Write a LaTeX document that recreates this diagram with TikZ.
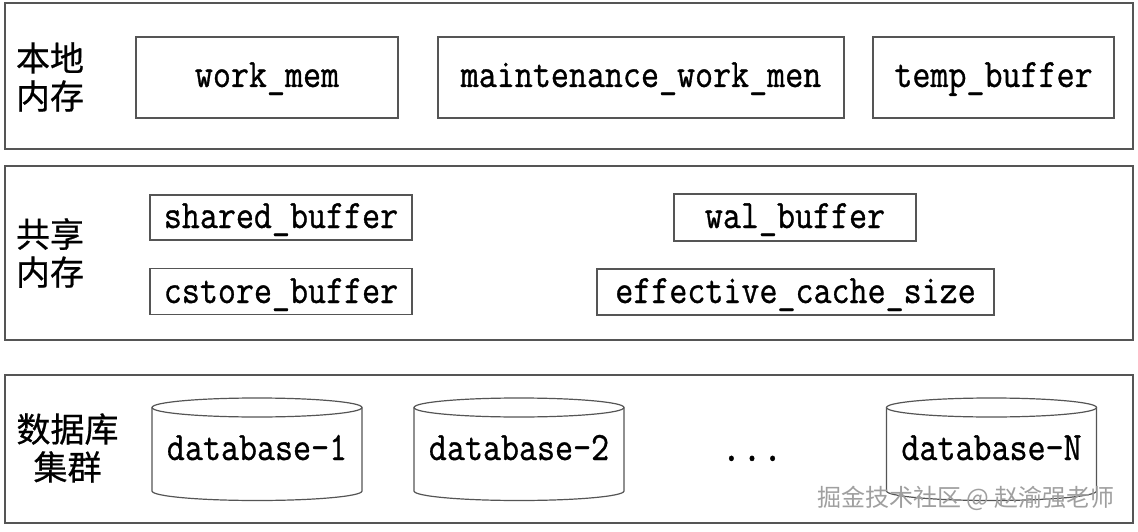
\documentclass[tikz,border=0pt]{standalone}
\usepackage{fontspec}
\usepackage{graphicx}
\newfontfamily\cjk{Noto Sans CJK SC}[FakeBold=0.6]
\newfontfamily\cjkwm{Noto Sans CJK SC}
\newfontfamily\monof{Latin Modern Mono}[FakeBold=0.9]
\definecolor{ln}{HTML}{555555}
\newcommand\mono{\monof\fontsize{35}{40}\selectfont}
\newcommand\tx[1]{\scalebox{1}[1.15]{#1}}
\tikzset{
  frame/.style={draw=ln, line width=1.2pt, inner sep=0pt},
  box/.style={draw=ln, line width=1.2pt, inner sep=0pt, font=\mono, text depth=0pt},
  lab/.style={font=\cjk\fontsize{34}{38}\selectfont, align=center, inner sep=0pt},
  dbtext/.style={font=\mono, inner sep=0pt, anchor=base},
  cyl/.style={draw=ln, line width=1.2pt}
}
\newcommand\cylinder[1]{%
  \draw[cyl] (#1,407.5) ellipse [x radius=105pt, y radius=9.5pt];
  \draw[cyl] (#1-105,407.5) -- (#1-105,491) arc[start angle=180, end angle=360, x radius=105pt, y radius=9.5pt] -- (#1+105,407.5);
}
\begin{document}
\begin{tikzpicture}[x=1pt,y=-1pt]
\useasboundingbox (0,0) rectangle (1138,532);
\fill[white] (0,0) rectangle (1138,532);
% frames
\node[frame, minimum width=1128pt, minimum height=146pt] (f1) at (569,76) {};
\node[frame, minimum width=1128pt, minimum height=174pt] (f2) at (569,253) {};
\node[frame, minimum width=1128pt, minimum height=148pt] (f3) at (569,449) {};
% labels
\node[lab] (l1) at (50,77) {本地\\内存};
\node[lab] (l2) at (50,253) {共享\\内存};
\node[lab] (l3) at (67.5,448) {数据库\\集群};
% local memory
\node[box, text height=19pt, minimum width=262pt, minimum height=81pt] (wm) at (267,77.5) {\tx{work\_mem}};
\node[box, text height=19pt, minimum width=406pt, minimum height=81pt] (mwm) at (641,77.5) {\tx{maintenance\_work\_men}};
\node[box, text height=19pt, minimum width=241pt, minimum height=81pt] (tb) at (993.5,77.5) {\tx{temp\_buffer}};
% shared memory
\node[box, text height=21pt, minimum width=262pt, minimum height=45pt] (sb) at (281,217.5) {\tx{shared\_buffer}};
\node[box, text height=23pt, minimum width=262pt, minimum height=46pt] (cb) at (281,291.5) {\tx{cstore\_buffer}};
\node[box, text height=21pt, minimum width=242pt, minimum height=47pt] (wb) at (795,217.5) {\tx{wal\_buffer}};
\node[box, text height=22pt, minimum width=397pt, minimum height=46pt] (ecs) at (795.5,292) {\tx{effective\_cache\_size}};
% databases
\cylinder{257}
\cylinder{519}
\cylinder{991.5}
\node[dbtext] (db1) at (257,460) {\tx{database-1}};
\node[dbtext] (db2) at (519,460) {\tx{database-2}};
\node[dbtext] (dbn) at (991.5,460) {\tx{database-N}};
\node[dbtext, font=\monof\fontsize{40}{40}\selectfont] (dots) at (752,461) {\tx{...}};
% watermark
\node[font=\cjkwm\fontsize{24}{26}\selectfont, text=gray!75, inner sep=0pt] (wmk) at (966,498) {掘金技术社区 @ 赵渝强老师};
\end{tikzpicture}
\end{document}
